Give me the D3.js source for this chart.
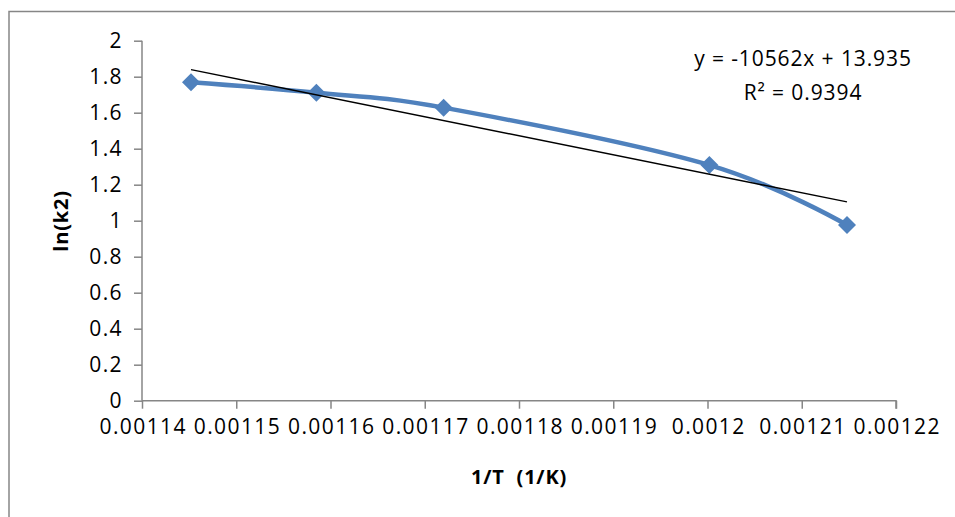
<!DOCTYPE html>
<html>
<head>
<meta charset="utf-8">
<script src="https://cdn.jsdelivr.net/npm/d3@7"></script>
<style>
  html, body { margin: 0; padding: 0; background: #fff; }
  svg { display: block; }
  text { font-family: "Open Sans", sans-serif; fill: #000; }
</style>
</head>
<body>
<svg id="chart" width="955" height="517"></svg>
<script>
// 1/T (1/K) for each measured temperature
const invT = [0.0011452, 0.0011585, 0.0011720, 0.0012002, 0.0012148];
// ln(k2) measured at each temperature
const lnK2 = [1.769, 1.711, 1.628, 1.309, 0.976];
// Linear trendline coefficients (y = slope * x + intercept) and fit quality
const trendSlope = [-10562];
const trendIntercept = [13.935];
const trendR2 = [0.9394];
// Axis ticks
const xTicks = [0.00114, 0.00115, 0.00116, 0.00117, 0.00118, 0.00119, 0.0012, 0.00121, 0.00122];
const xTickLabels = ["0.00114", "0.00115", "0.00116", "0.00117", "0.00118", "0.00119", "0.0012", "0.00121", "0.00122"];
const yTicks = [0, 0.2, 0.4, 0.6, 0.8, 1, 1.2, 1.4, 1.6, 1.8, 2];
const yTickLabels = ["0", "0.2", "0.4", "0.6", "0.8", "1", "1.2", "1.4", "1.6", "1.8", "2"];

const svg = d3.select("#chart");
const FONT = "'Open Sans', sans-serif";

// Outer chart frame
svg.append("rect")
  .attr("x", 9).attr("y", 11.5)
  .attr("width", 960).attr("height", 520)
  .attr("fill", "none").attr("stroke", "#868686").attr("stroke-width", 1.5);

const x = d3.scaleLinear().domain([0.00114, 0.00122]).range([142, 896]);
const y = d3.scaleLinear().domain([0, 2]).range([400.7, 40.7]);

const axisColor = "#868686";

function styleTickText(sel) {
  sel.style("font-size", "21px")
    .style("font-family", FONT)
    .style("letter-spacing", "1.4px")
    .attr("fill", "#000");
}

// Y axis
const yAxis = svg.append("g")
  .attr("transform", `translate(${x.range()[0]},0)`)
  .call(d3.axisLeft(y).tickValues(yTicks)
    .tickFormat((d, i) => yTickLabels[i]).tickSize(8).tickPadding(11));
yAxis.select(".domain").attr("stroke", axisColor).attr("stroke-width", 1.5).attr("d", `M0,${y(2)}V${y(0)}`);
yAxis.selectAll(".tick line").attr("stroke", axisColor).attr("stroke-width", 1.5);
yAxis.selectAll(".tick text").call(styleTickText);

// X axis
const xAxis = svg.append("g")
  .attr("transform", `translate(0,${y(0)})`)
  .call(d3.axisBottom(x).tickValues(xTicks)
    .tickFormat((d, i) => xTickLabels[i]).tickSize(8).tickPadding(10));
xAxis.select(".domain").attr("stroke", axisColor).attr("stroke-width", 1.5).attr("d", `M${x.range()[0]},0H${x.range()[1]}V8`);
xAxis.selectAll(".tick line").attr("stroke", axisColor).attr("stroke-width", 1.5);
xAxis.selectAll(".tick text").call(styleTickText).attr("dx", "0.7px");

// Axis titles
svg.append("text")
  .attr("x", 519).attr("y", 484)
  .attr("text-anchor", "middle")
  .style("font-size", "20px").style("font-weight", "bold")
  .style("letter-spacing", "0.8px")
  .attr("xml:space", "preserve")
  .text("1/T  (1/K)");

svg.append("text")
  .attr("transform", "translate(68,221) rotate(-90)")
  .attr("text-anchor", "middle")
  .style("font-size", "20px").style("font-weight", "bold")
  .style("letter-spacing", "0.8px")
  .text("ln(k2)");

// Smoothed data series
const pts = invT.map((v, i) => [v, lnK2[i]]);
const line = d3.line()
  .x(d => x(d[0])).y(d => y(d[1]))
  .curve(d3.curveCardinal.tension(0));

svg.append("path")
  .datum(pts)
  .attr("d", line)
  .attr("fill", "none")
  .attr("stroke", "#4F81BD")
  .attr("stroke-width", 4.5)
  .attr("stroke-linejoin", "round")
  .attr("stroke-linecap", "round");

// Diamond markers
svg.selectAll("path.marker")
  .data(pts)
  .enter().append("path")
  .attr("class", "marker")
  .attr("transform", d => `translate(${x(d[0])},${y(d[1])})`)
  .attr("d", "M0,-9L9,0L0,9L-9,0Z")
  .attr("fill", "#4F81BD");

// Linear trendline over the data range
const xMin = d3.min(invT), xMax = d3.max(invT);
const trend = d => trendSlope[0] * d + trendIntercept[0];
svg.append("line")
  .attr("x1", x(xMin)).attr("y1", y(trend(xMin)))
  .attr("x2", x(xMax)).attr("y2", y(trend(xMax)))
  .attr("stroke", "#000").attr("stroke-width", 1.4);

// Trendline equation and R²
svg.append("text")
  .attr("x", 803).attr("y", 66)
  .attr("text-anchor", "middle")
  .style("font-size", "21px").style("letter-spacing", "0.9px")
  .text(`y = ${trendSlope[0]}x + ${trendIntercept[0]}`);
svg.append("text")
  .attr("x", 803).attr("y", 100)
  .attr("text-anchor", "middle")
  .style("font-size", "21px").style("letter-spacing", "0.9px")
  .text(`R² = ${trendR2[0]}`);
</script>
</body>
</html>
